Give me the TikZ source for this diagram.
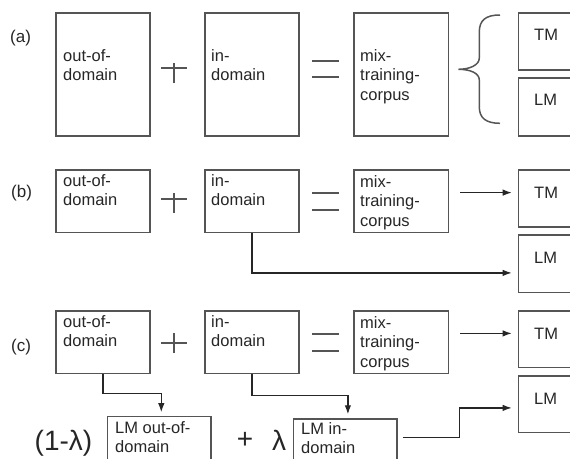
\documentclass[tikz,border=0pt]{standalone}
\usepackage{fontspec}
\setmainfont{Liberation Sans}
\usetikzlibrary{arrows.meta}
\definecolor{edge}{HTML}{555555}
\definecolor{ink}{HTML}{262626}
\begin{document}
\begin{tikzpicture}[x=1pt,y=-1pt,
  box/.style={draw=edge, line width=1.5pt, inner sep=0pt, anchor=north west},
  txt/.style={inner sep=0pt, anchor=north west, align=left, text=ink,
              font=\fontsize{16.5}{19.5}\selectfont},
  tag/.style={inner sep=0pt, anchor=base west, text=ink,
              font=\fontsize{17}{20}\selectfont},
  big/.style={inner sep=0pt, anchor=base, text=ink,
              font=\fontsize{28}{30}\selectfont},
  sym/.style={draw=edge, line width=1.5pt},
  flow/.style={draw=ink, line width=1.2pt, -{Latex[length=9pt,width=6.5pt]}},
  wide/.style={minimum width=94.3pt},
  side/.style={minimum width=70pt},
]
\useasboundingbox (0,0) rectangle (570,458);
\clip (0,0) rectangle (570,458);

% ---------- row (a): mixed corpus feeds both models ----------
\node[tag] (la) at (10,42) {(a)};
\node[box, wide, minimum height=122.7pt] (aout) at (55,12.3) {};
\node[box, wide, minimum height=122.7pt] (ain)  at (204,12.3) {};
\node[box, wide, minimum height=122.7pt] (amix) at (353.3,12.3) {};
\node[box, side, minimum height=56.7pt]  (atm)  at (517.7,12.3) {};
\node[box, side, minimum height=57.7pt]  (alm)  at (517.7,77.3) {};
\node[txt] (aout-t) at (63,49) {out-of-\\domain};
\node[txt] (ain-t)  at (211,49) {in-\\domain};
\node[txt] (amix-t) at (360,49) {mix-\\training-\\corpus};
\node[txt] (atm-t)  at (534,29) {TM};
\node[txt] (alm-t)  at (534,94) {LM};
\draw[sym] (161,68) -- (187,68) (174,63) -- (174,83);
\draw[sym] (312,61) -- (339,61) (312,77) -- (339,77);
\draw[sym] (500,15) .. controls (486,15) and (479.3,20) .. (479.3,32)
  -- (479.3,58) .. controls (479.3,65) and (470,69.3) .. (458.3,69.3)
  .. controls (470,69.3) and (479.3,73) .. (479.3,80)
  -- (479.3,107) .. controls (479.3,118) and (486,123.3) .. (500,123.3);

% ---------- row (b): language model from in-domain data only ----------
\node[tag] (lb) at (11,197) {(b)};
\node[box, wide, minimum height=62.7pt] (bout) at (55,169) {};
\node[box, wide, minimum height=62.7pt] (bin)  at (204,169) {};
\node[box, wide, minimum height=62.7pt] (bmix) at (353.3,169) {};
\node[box, side, minimum height=57pt]   (btm)  at (517.7,169) {};
\node[box, side, minimum height=57.7pt] (blm)  at (517.7,234) {};
\node[txt] (bout-t) at (63,174) {out-of-\\domain};
\node[txt] (bin-t)  at (211,174) {in-\\domain};
\node[txt] (bmix-t) at (360,175) {mix-\\training-\\corpus};
\node[txt] (btm-t)  at (534,187) {TM};
\node[txt] (blm-t)  at (534,252) {LM};
\draw[sym] (161,199) -- (187,199) (174,193) -- (174,213);
\draw[sym] (312,193) -- (339,193) (312,210) -- (339,210);
\draw[flow, shorten <=11pt, shorten >=6pt]
  ([yshift=8.5pt]bmix.east) -- ([yshift=8.5pt]bmix.east -| btm.west);
\draw[flow, shorten >=6pt] (bin.south) |- ([yshift=-9.3pt]blm.west);

% ---------- row (c): interpolated language model ----------
\node[tag] (lc) at (11,351) {(c)};
\node[box, wide, minimum height=62.7pt] (cout) at (55,310) {};
\node[box, wide, minimum height=62.7pt] (cin)  at (204,310) {};
\node[box, wide, minimum height=62.7pt] (cmix) at (353.3,310) {};
\node[box, side, minimum height=56.7pt] (ctm)  at (517.7,310) {};
\node[box, side, minimum height=56.7pt] (clm)  at (517.7,375) {};
\node[box, minimum width=103.3pt, minimum height=60pt] (clo) at (106.7,415.7) {};
\node[box, minimum width=103.3pt, minimum height=60pt] (cli) at (292.7,418.3) {};
\node[txt] (cout-t) at (63,315) {out-of-\\domain};
\node[txt] (cin-t)  at (211,315) {in-\\domain};
\node[txt] (cmix-t) at (360,316) {mix-\\training-\\corpus};
\node[txt] (ctm-t)  at (534,328) {TM};
\node[txt] (clm-t)  at (534,393) {LM};
\node[txt] (clo-t)  at (115,421) {LM out-of-\\domain};
\node[txt] (cli-t)  at (301,422) {LM in-\\domain};
\draw[sym] (161,343) -- (187,343) (174,333) -- (174,353);
\draw[sym] (312,334) -- (339,334) (312,351) -- (339,351);
\node[big] (w1)   at (63.5,450) {(1-λ)};
\node[big] (plus) at (245,448) {+};
\node[big] (w2)   at (279,450) {λ};
\draw[flow, shorten <=11pt, shorten >=6pt]
  ([yshift=8.7pt]cmix.east) -- ([yshift=8.7pt]cmix.east -| ctm.west);
\draw[flow, shorten >=3.5pt]
  (cout.south) -- ++(0,19.3) -| ([xshift=2.2pt]clo.north);
\draw[flow, shorten >=4pt]
  (cin.south) -- ++(0,21) -| ([xshift=2.8pt]cli.north);
\draw[flow, shorten <=5.7pt, shorten >=6pt]
  ([yshift=-19.4pt]cli.north east) -- ++(62.3,0) |- ([yshift=-3.8pt]clm.west);
\end{tikzpicture}
\end{document}
